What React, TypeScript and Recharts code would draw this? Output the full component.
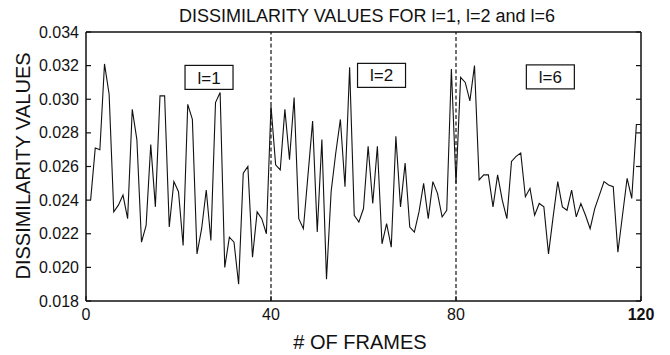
import React from 'react';
import { LineChart, Line, XAxis, YAxis, ReferenceLine, ReferenceDot } from 'recharts';

// Frame numbers and the dissimilarity measured at each frame
const frames: number[] = Array.from({ length: 120 }, (_, i) => i + 1);
const dissimilarity: number[] = [
  0.0240, 0.0271, 0.0270, 0.0321, 0.0303, 0.0233, 0.0237, 0.0243, 0.0229, 0.0294,
  0.0276, 0.0215, 0.0225, 0.0273, 0.0236, 0.0302, 0.0302, 0.0224, 0.0251, 0.0245,
  0.0213, 0.0297, 0.0288, 0.0208, 0.0223, 0.0246, 0.0216, 0.0298, 0.0304, 0.0200,
  0.0218, 0.0215, 0.0190, 0.0256, 0.0260, 0.0206, 0.0233, 0.0229, 0.0220, 0.0296,
  0.0261, 0.0258, 0.0294, 0.0264, 0.0301, 0.0229, 0.0223, 0.0255, 0.0287, 0.0221,
  0.0276, 0.0193, 0.0245, 0.0268, 0.0288, 0.0248, 0.0319, 0.0231, 0.0227, 0.0235,
  0.0272, 0.0238, 0.0272, 0.0214, 0.0226, 0.0212, 0.0278, 0.0236, 0.0262, 0.0224,
  0.0221, 0.0233, 0.0250, 0.0229, 0.0251, 0.0244, 0.0230, 0.0234, 0.0318, 0.0250,
  0.0313, 0.0310, 0.0299, 0.0320, 0.0252, 0.0255, 0.0255, 0.0236, 0.0255, 0.0240,
  0.0229, 0.0263, 0.0266, 0.0268, 0.0242, 0.0247, 0.0231, 0.0238, 0.0236, 0.0208,
  0.0230, 0.0251, 0.0236, 0.0234, 0.0246, 0.0230, 0.0238, 0.0231, 0.0223, 0.0235,
  0.0243, 0.0251, 0.0249, 0.0248, 0.0209, 0.0231, 0.0253, 0.0241, 0.0285, 0.0285,
];

const xTicks: number[] = [0, 40, 80, 120];
const yTicks: number[] = [0.018, 0.02, 0.022, 0.024, 0.026, 0.028, 0.03, 0.032, 0.034];
const segmentBoundaries: number[] = [40, 80];

// Boxed level annotations
const levelNames: string[] = ['l=1', 'l=2', 'l=6'];
const levelFrames: number[] = [26.6, 63.9, 100.4];
const levelValues: number[] = [0.0313, 0.03142, 0.03133];

const data = frames.map((f, i) => ({ frame: f, value: dissimilarity[i] }));

const FONT = '"Liberation Sans", Arial, Helvetica, sans-serif';
const INK = '#111';

const LeftTick = (props: any) => {
  const { x, y, payload } = props;
  return (
    <g>
      <line x1={x} x2={x + 5} y1={y} y2={y} stroke={INK} strokeWidth={1.2} />
      <text x={x - 7} y={y} dy="0.35em" textAnchor="end" fontSize={16} fontFamily={FONT} fill={INK}>
        {Number(payload.value).toFixed(3)}
      </text>
    </g>
  );
};

const RightTick = (props: any) => {
  const { x, y } = props;
  return <line x1={x} x2={x - 5} y1={y} y2={y} stroke={INK} strokeWidth={1.2} />;
};

const BottomTick = (props: any) => {
  const { x, y, payload } = props;
  const last = payload.value === 120;
  return (
    <g>
      <line x1={x} x2={x} y1={y} y2={y - 5} stroke={INK} strokeWidth={1.2} />
      <text x={x} y={y + 19} textAnchor="middle" fontSize={16} fontFamily={FONT} fill={INK}
        fontWeight={last ? 'bold' : 'normal'}>
        {payload.value}
      </text>
    </g>
  );
};

const levelBox = (label: string) => (p: any) => (
  <g>
    <rect x={p.cx - 24} y={p.cy - 12} width={48} height={24} fill="#fff" stroke={INK} strokeWidth={1.2} />
    <text x={p.cx} y={p.cy} dy="0.36em" textAnchor="middle" fontSize={17} fontFamily={FONT} fill={INK}>
      {label}
    </text>
  </g>
);

export default function App() {
  return (
    <div style={{ position: 'absolute', left: 0, top: 0, width: 670, height: 355, background: '#fff' }}>
      <LineChart width={670} height={355} data={data} margin={{ top: 0, right: 0, bottom: 0, left: 0 }}>
        <XAxis
          dataKey="frame"
          type="number"
          domain={[0, 120]}
          ticks={xTicks}
          allowDataOverflow
          height={54}
          tickSize={0}
          tickMargin={0}
          tickLine={false}
          axisLine={{ stroke: INK, strokeWidth: 1.5 }}
          tick={BottomTick}
          interval={0}
        />
        <XAxis
          xAxisId="top"
          orientation="top"
          dataKey="frame"
          type="number"
          domain={[0, 120]}
          ticks={xTicks}
          allowDataOverflow
          height={32}
          tick={false}
          tickLine={false}
          axisLine={{ stroke: INK, strokeWidth: 1.5 }}
        />
        <YAxis
          type="number"
          domain={[0.018, 0.034]}
          ticks={yTicks}
          allowDataOverflow
          width={86}
          tickSize={0}
          tickMargin={0}
          tickLine={false}
          axisLine={{ stroke: INK, strokeWidth: 1.5 }}
          tick={LeftTick}
          interval={0}
        />
        <YAxis
          yAxisId="right"
          orientation="right"
          type="number"
          domain={[0.018, 0.034]}
          ticks={yTicks}
          allowDataOverflow
          width={29}
          tickSize={0}
          tickMargin={0}
          tickLine={false}
          axisLine={{ stroke: INK, strokeWidth: 1.5 }}
          tick={RightTick}
          interval={0}
        />
        {segmentBoundaries.map((b) => (
          <ReferenceLine key={b} x={b} stroke={INK} strokeWidth={1.2} strokeDasharray="4 2.5" />
        ))}
        <Line
          type="linear"
          dataKey="value"
          stroke={INK}
          strokeWidth={1.1}
          dot={false}
          isAnimationActive={false}
        />
        {levelNames.map((name, i) => (
          <ReferenceDot
            key={name}
            x={levelFrames[i]}
            y={levelValues[i]}
            r={0}
            shape={levelBox(name)}
          />
        ))}
        <text x={367} y={21.5} textAnchor="middle" fontSize={18} fontFamily={FONT} fill={INK}>
          DISSIMILARITY VALUES FOR l=1, l=2 and l=6
        </text>
        <text x={360} y={349} textAnchor="middle" fontSize={20} fontFamily={FONT} fill={INK}>
          # OF FRAMES
        </text>
        <text transform="translate(30,166) rotate(-90)" textAnchor="middle" fontSize={20} fontFamily={FONT} fill={INK}>
          DISSIMILARITY VALUES
        </text>
      </LineChart>
    </div>
  );
}
